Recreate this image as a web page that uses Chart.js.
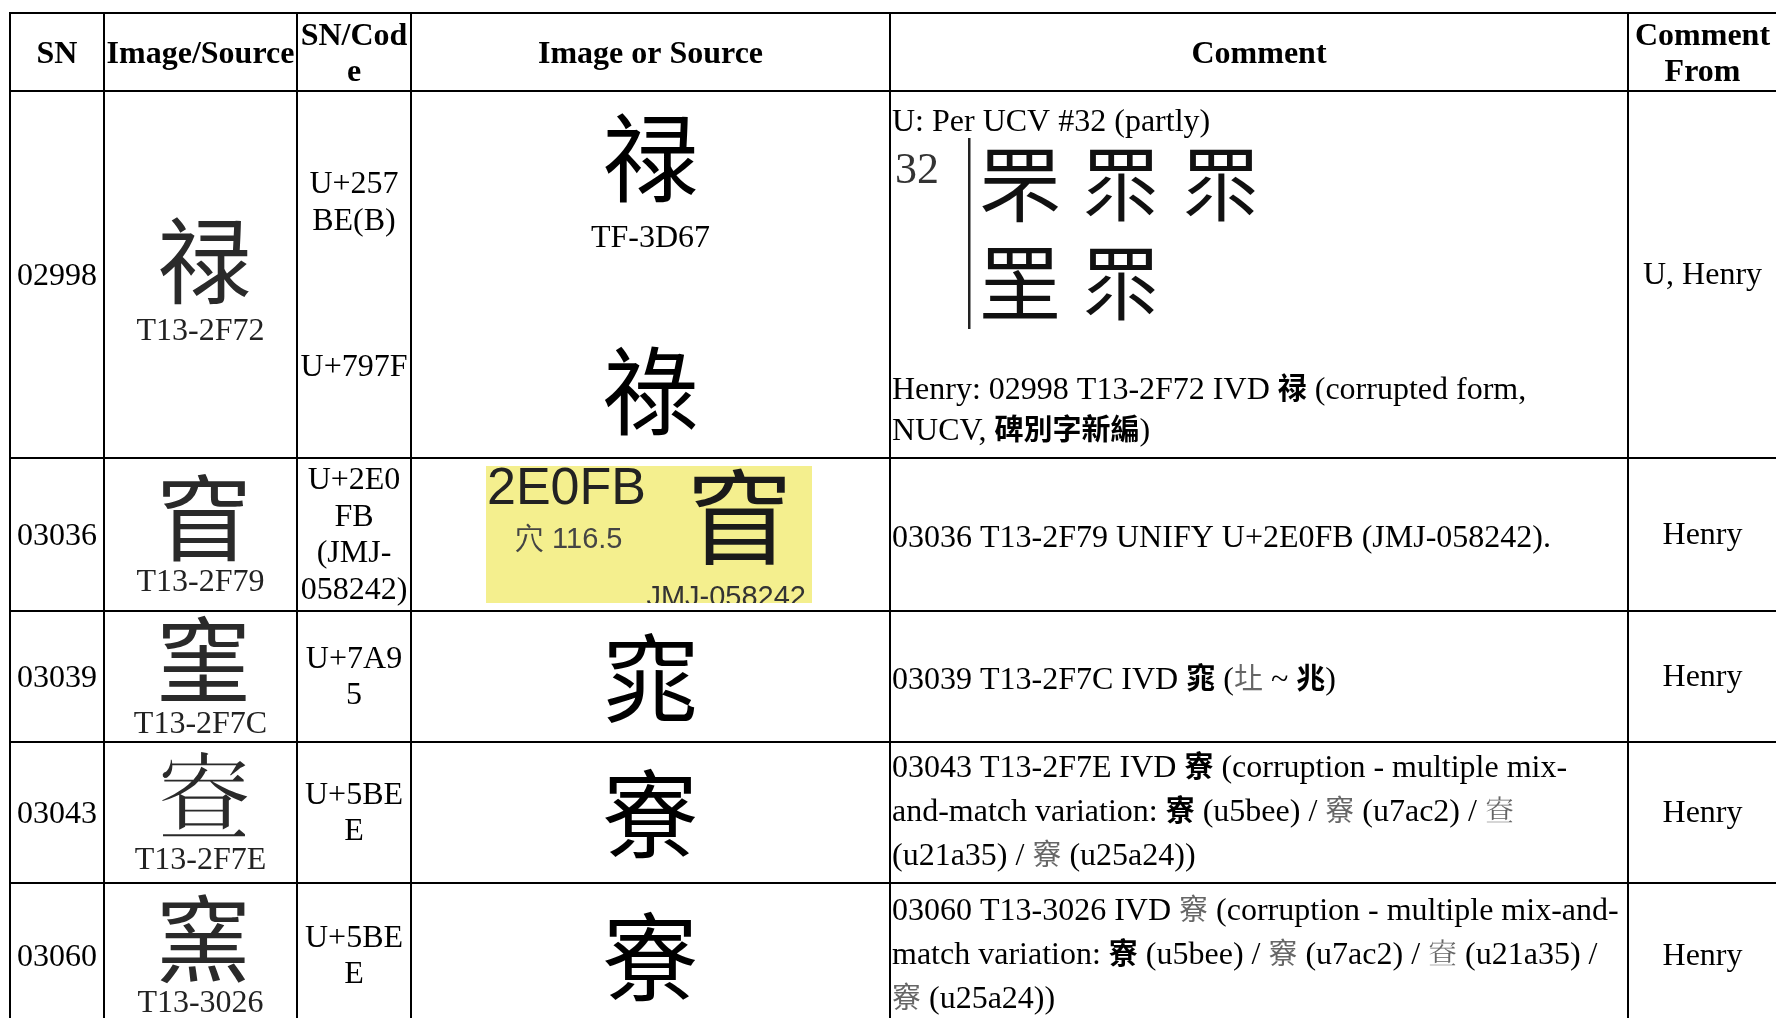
<!DOCTYPE html>
<html><head><meta charset="utf-8">
<script src="https://cdn.jsdelivr.net/npm/chart.js@4.4.1/dist/chart.umd.min.js"></script>
<style>html,body{margin:0;padding:0;background:#fff;overflow:hidden}#wrap{width:1776px;height:1018px}</style>
</head><body><div id="wrap"><canvas id="c" width="1776" height="1018"></canvas></div>
<script>
// ---- table content ----
const headers = [["SN"], ["Image/Source"], ["SN/Cod", "e"], ["Image or Source"], ["Comment"], ["Comment", "From"]];
const snValues = ["02998", "03036", "03039", "03043", "03060"];
const sourceGlyphs = ["禄", "窅", "窐", "𡨵", "窯"];
const sourceLabels = ["T13-2F72", "T13-2F79", "T13-2F7C", "T13-2F7E", "T13-3026"];
const codeLines = [["U+257", "BE(B)"], ["U+2E0", "FB", "(JMJ-", "058242)"], ["U+7A9", "5"], ["U+5BE", "E"], ["U+5BE", "E"]];
const codeLinesExtra = ["U+797F"];
const refGlyphs = ["禄", "窅", "窕", "寮", "寮"];
const refGlyphExtra = "祿";
const refLabel = "TF-3D67";
const refBoxTexts = ["2E0FB", "穴 116.5", "JMJ-058242"];
const ucvNumber = "32";
const ucvGlyphs = [["罘", "眔", "眔"], ["罜", "眔"]];
const comments = [
  ["U: Per UCV #32 (partly)", "Henry: 02998 T13-2F72 IVD [b:禄] (corrupted form,", "NUCV, [b:碑別字新編])"],
  ["03036 T13-2F79 UNIFY U+2E0FB (JMJ-058242)."],
  ["03039 T13-2F7C IVD [b:窕] ([g:圵] ~ [b:兆])"],
  ["03043 T13-2F7E IVD [b:寮] (corruption - multiple mix-", "and-match variation: [b:寮] (u5bee) / [g:竂] (u7ac2) / [g:𡨵]", "(u21a35) / [g:竂] (u25a24))"],
  ["03060 T13-3026 IVD [g:竂] (corruption - multiple mix-and-", "match variation: [b:寮] (u5bee) / [g:竂] (u7ac2) / [g:𡨵] (u21a35) /", "[g:竂] (u25a24))"]
];
const commentFrom = ["U, Henry", "Henry", "Henry", "Henry", "Henry"];

// ---- layout (data units of the chart scales) ----
const colEdges = [10, 104, 297, 411, 890, 1628, 1777];
const rowEdges = [13, 91, 458, 611, 742, 883, 1028];
const CJK = "'Noto Sans CJK TC', 'Noto Sans CJK JP', 'Noto Sans CJK KR', 'Noto Sans CJK SC', sans-serif";
const SERIF = "'Liberation Serif', " + CJK;
const SANS = "'Liberation Sans', Arial, sans-serif";

const tablePlugin = {
  id: 'table',
  afterDraw(chart) {
    const ctx = chart.ctx, xs = chart.scales.x, ys = chart.scales.y;
    const px = v => xs.getPixelForValue(v), py = v => ys.getPixelForValue(v);
    const colC = i => (colEdges[i] + colEdges[i + 1]) / 2;
    const rowC = r => (rowEdges[r + 1] + rowEdges[r + 2]) / 2;

    function txt(s, x, y, font, color, align, base) {
      ctx.font = font; ctx.fillStyle = color || '#000';
      ctx.textAlign = align || 'center'; ctx.textBaseline = base || 'middle';
      ctx.fillText(s, px(x), py(y));
    }
    function rich(line, x, y) {
      const parts = []; const re = /\[(b|g):([^\]]+)\]/g; let last = 0, m;
      while ((m = re.exec(line))) {
        if (m.index > last) parts.push(['r', line.slice(last, m.index)]);
        parts.push([m[1], m[2]]); last = re.lastIndex;
      }
      if (last < line.length) parts.push(['r', line.slice(last)]);
      let cx = px(x); const base = py(y) + 11;
      ctx.textAlign = 'left'; ctx.textBaseline = 'alphabetic';
      for (const [k, s] of parts) {
        if (k === 'r') { ctx.font = "32px " + SERIF; ctx.fillStyle = '#000'; }
        else if (k === 'b') { ctx.font = "bold 29px " + CJK; ctx.fillStyle = '#000'; }
        else { ctx.font = "29px " + CJK; ctx.fillStyle = '#666'; }
        ctx.fillText(s, cx, base);
        cx += ctx.measureText(s).width;
      }
    }

    ctx.save();
    // header
    headers.forEach((h, i) => {
      const c = (rowEdges[0] + rowEdges[1]) / 2 + 3;
      h.forEach((s, j) => txt(s, colC(i), c + (j - (h.length - 1) / 2) * 36, "bold 32px " + SERIF));
    });

    snValues.forEach((sn, r) => {
      const rc = rowC(r);
      // SN
      txt(sn, colC(0), rc + 2, "32px " + SERIF);
      // Image/Source
      if (r === 0) {
        txt(sourceGlyphs[r], colC(1) + 4, rowEdges[1] + 170, "94px " + CJK, '#2a2a2a');
        txt(sourceLabels[r], colC(1), rowEdges[1] + 241, "32px " + SERIF, '#222');
      } else {
        txt(sourceGlyphs[r], colC(1) + 3, rc - 16, "94px " + CJK, '#2a2a2a');
        txt(sourceLabels[r], colC(1), rc + 48, "32px " + SERIF, '#222');
      }
      // SN/Code
      const cl = codeLines[r];
      if (r === 0) {
        cl.forEach((s, j) => txt(s, colC(2), rowEdges[1] + 94 + j * 37, "32px " + SERIF));
        txt(codeLinesExtra[0], colC(2), rowEdges[1] + 277, "32px " + SERIF);
      } else {
        cl.forEach((s, j) => txt(s, colC(2), rc + 1 + (j - (cl.length - 1) / 2) * 36.7, "32px " + SERIF));
      }
      // Image or Source
      if (r === 0) {
        txt(refGlyphs[0], colC(3), rowEdges[1] + 67, "96px " + CJK);
        txt(refLabel, colC(3), rowEdges[1] + 148, "32px " + SERIF);
        txt(refGlyphExtra, colC(3), rowEdges[1] + 300, "96px " + CJK);
      } else if (r === 1) {
        const bx0 = 486, bx1 = 812, by0 = rowEdges[2] + 8, by1 = rowEdges[3] - 8;
        ctx.fillStyle = '#F4EF8E';
        ctx.fillRect(px(bx0), py(by0), px(bx1) - px(bx0), py(by1) - py(by0));
        txt(refBoxTexts[0], bx0 + 1, by0 + 24, "52px " + SANS, '#222', 'left');
        txt(refBoxTexts[1], bx0 + 29, by0 + 74, "29px " + SANS, '#444', 'left');
        txt(refGlyphs[1], 739, by0 + 51, "104px " + CJK, '#1a1a1a');
        ctx.save();
        ctx.beginPath(); ctx.rect(px(bx0), py(by0), px(bx1) - px(bx0), py(by1) - py(by0)); ctx.clip();
        txt(refBoxTexts[2], 806, by1 + 3, "29px " + SANS, '#333', 'right', 'alphabetic');
        ctx.restore();
      } else {
        txt(refGlyphs[r], colC(3), rc + 1, "96px " + CJK);
      }
      // Comment
      const cm = comments[r], lx = colEdges[4] + 2;
      if (r === 0) {
        rich(cm[0], lx, rowEdges[1] + 29);
        txt(ucvNumber, 895, rowEdges[1] + 80, "44px " + SERIF, '#333', 'left');
        ctx.fillStyle = '#222';
        ctx.fillRect(px(968), py(rowEdges[1] + 47), 2.5, py(rowEdges[1] + 238) - py(rowEdges[1] + 47));
        const gx = [1020, 1121, 1221], gy = [rowEdges[1] + 93, rowEdges[1] + 192];
        ucvGlyphs.forEach((row, a) => row.forEach((g, b) => txt(g, gx[b], gy[a], "82px " + CJK, '#111')));
        rich(cm[1], lx, rowEdges[1] + 297);
        rich(cm[2], lx, rowEdges[1] + 338);
      } else {
        const lh = cm.length > 1 ? 44 : 0;
        const dy = cm.length > 1 ? -3 : 1;
        cm.forEach((s, j) => rich(s, lx, rc + dy + (j - (cm.length - 1) / 2) * lh));
      }
      // Comment From
      txt(commentFrom[r], colC(5), rc + 1.5, "32px " + SERIF);
    });

    // grid lines
    ctx.strokeStyle = '#000'; ctx.lineWidth = 2;
    ctx.beginPath();
    rowEdges.forEach(y => { ctx.moveTo(px(colEdges[0]) - 1, py(y)); ctx.lineTo(px(colEdges[colEdges.length - 1]), py(y)); });
    colEdges.forEach(x => { ctx.moveTo(px(x), py(rowEdges[0])); ctx.lineTo(px(x), py(rowEdges[rowEdges.length - 1])); });
    ctx.stroke();
    ctx.restore();
  }
};

new Chart(document.getElementById('c'), {
  type: 'scatter',
  data: { datasets: [{ data: [], showLine: false }] },
  options: {
    responsive: false, animation: false, devicePixelRatio: 1,
    layout: { padding: 0 },
    plugins: { legend: { display: false }, tooltip: { enabled: false } },
    scales: {
      x: { type: 'linear', min: 0, max: 1776, display: false },
      y: { type: 'linear', min: 0, max: 1018, reverse: true, display: false }
    }
  },
  plugins: [tablePlugin]
});
</script></body></html>
